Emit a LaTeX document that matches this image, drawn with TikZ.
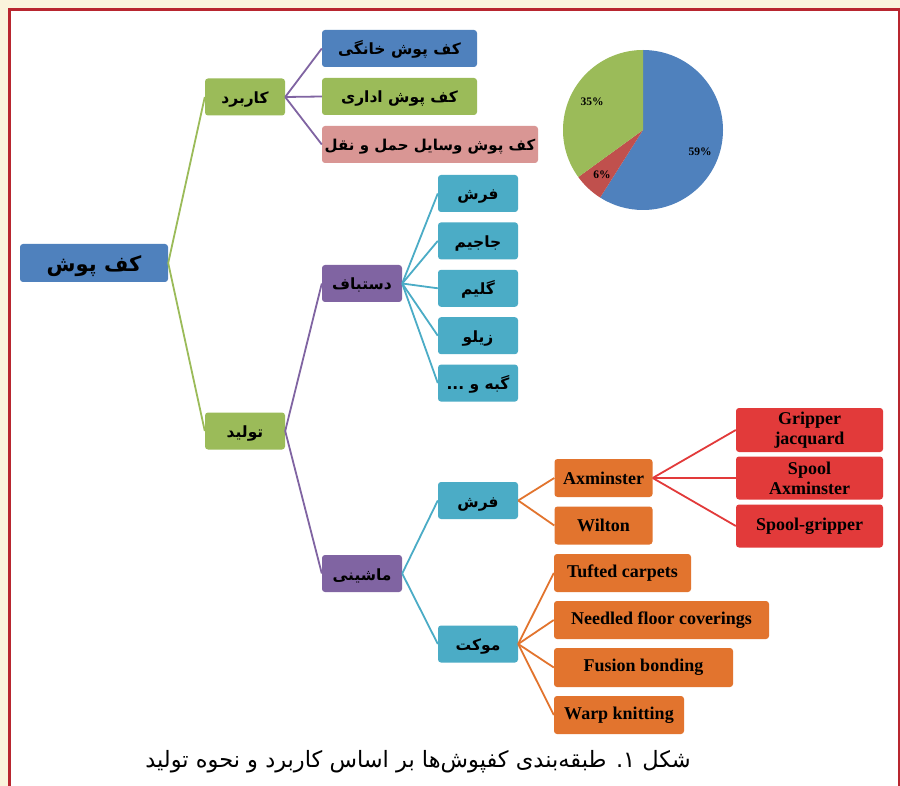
\documentclass[tikz,border=0pt]{standalone}
\usepackage{fontspec}
\setmainfont{Liberation Serif}
\newfontfamily\farsi[Script=Arabic]{DejaVu Sans}
\TeXXeTstate=1
\usepackage{tikz}
\usetikzlibrary{positioning}

\definecolor{kblue}{HTML}{4F81BD}
\definecolor{kgreen}{HTML}{9BBB59}
\definecolor{kpink}{HTML}{D99694}
\definecolor{kpurple}{HTML}{8064A2}
\definecolor{kteal}{HTML}{4BACC6}
\definecolor{korange}{HTML}{E2742E}
\definecolor{kred}{HTML}{E23A3A}
\definecolor{piered}{HTML}{C0504D}
\definecolor{cream}{HTML}{FAF4DC}
\definecolor{framered}{HTML}{B8262F}

\newcommand{\fa}[1]{\beginR #1\endR}

\begin{document}
\begin{tikzpicture}[x=1pt,y=-1pt,
    box/.style={rounded corners=3pt,minimum height=37pt,minimum width=80pt,inner sep=0pt,text=black},
    fabox/.style={box,text height=14pt,text depth=1pt,font=\farsi\bfseries\fontsize{15.5}{18}\selectfont},
    enbox/.style={box,align=center,font=\bfseries\fontsize{18}{20}\selectfont},
    link/.style={line width=1.8pt}]
       \useasboundingbox (0,0) rectangle (900,786);
       \clip (0,0) rectangle (900,786);
       \fill[cream] (0,0) rectangle (900,786);
       \filldraw[fill=white,draw=framered,line width=2.8pt] (9.5,9.5) rectangle (899,800);

       \node[fabox,fill=kblue,minimum width=148pt,minimum height=38pt,text height=19pt,text depth=1.5pt,font=\farsi\bfseries\fontsize{21}{24}\selectfont] (kafpush) at (94,263) {\fa{کف پوش}};

       \node[fabox,fill=kgreen] (karbord) at (245,97) {\fa{کاربرد}};
       \node[fabox,fill=kgreen] (tolid) at (245,431) {\fa{تولید}};

       \node[fabox,fill=kblue,minimum width=155pt] (khanegi) at (399.5,48.5) {\fa{کف پوش خانگی}};
       \node[fabox,fill=kgreen,minimum width=155pt] (edari) at (399.5,96.5) {\fa{کف پوش اداری}};
       \node[fabox,fill=kpink,minimum width=216pt,font=\farsi\bfseries\fontsize{15}{18}\selectfont] (haml) at (430,144.5) {\fa{کف پوش وسایل حمل و نقل}};

       \node[fabox,fill=kpurple] (dastbaf) at (362,283.5) {\fa{دستباف}};
       \node[fabox,fill=kpurple] (mashini) at (362,573.5) {\fa{ماشینی}};

       \node[fabox,fill=kteal] (farsh) at (478,193.5) {\fa{فرش}};
       \node[fabox,fill=kteal] (jajim) [below=10pt of farsh] {\fa{جاجیم}};
       \node[fabox,fill=kteal] (gelim) [below=10pt of jajim] {\fa{گلیم}};
       \node[fabox,fill=kteal] (zilu) [below=10pt of gelim] {\fa{زیلو}};
       \node[fabox,fill=kteal] (gabbe) [below=10pt of zilu] {\fa{گبه و ...}};

       \node[fabox,fill=kteal] (farshm) at (478,500.5) {\fa{فرش}};
       \node[fabox,fill=kteal] (moket) at (478,644) {\fa{موکت}};

       \node[enbox,fill=korange,minimum width=98pt,minimum height=38pt] (axminster) at (603.5,478) {Axminster};
       \node[enbox,fill=korange,minimum width=98pt,minimum height=38pt] (wilton) at (603.5,525.5) {Wilton};

       \node[enbox,fill=kred,minimum width=147pt,minimum height=44pt] (gripper) at (809.5,430) {Gripper\\jacquard};
       \node[enbox,fill=kred,minimum width=147pt,minimum height=43pt] (spoolax) at (809.5,478) {Spool\\Axminster};
       \node[enbox,fill=kred,minimum width=147pt,minimum height=43pt] (spoolgr) at (809.5,526) {Spool-gripper};

       \node[enbox,fill=korange,minimum width=137pt,minimum height=38pt] (tufted) at (622.5,573) {Tufted carpets};
       \node[enbox,fill=korange,minimum width=215pt,minimum height=38pt] (needled) at (661.5,620) {Needled floor coverings};
       \node[enbox,fill=korange,minimum width=179pt,minimum height=39pt] (fusion) at (643.5,667.5) {Fusion bonding};
       \node[enbox,fill=korange,minimum width=130pt,minimum height=38pt] (warp) at (619,715) {Warp knitting};

       \path[link,draw=kgreen]
       (kafpush.east) edge (karbord.west)
                      edge (tolid.west);
       \path[link,draw=kpurple]
       (karbord.east) edge (khanegi.west)
                      edge (edari.west)
                      edge (haml.west)
       (tolid.east) edge (dastbaf.west)
                    edge (mashini.west);
       \path[link,draw=kteal]
       (dastbaf.east) edge (farsh.west)
                      edge (jajim.west)
                      edge (gelim.west)
                      edge (zilu.west)
                      edge (gabbe.west)
       (mashini.east) edge (farshm.west)
                      edge (moket.west);
       \path[link,draw=korange]
       (farshm.east) edge (axminster.west)
                     edge (wilton.west)
       (moket.east) edge (tufted.west)
                    edge (needled.west)
                    edge (fusion.west)
                    edge (warp.west);
       \path[link,draw=kred]
       (axminster.east) edge (gripper.west)
                        edge (spoolax.west)
                        edge (spoolgr.west);

       \begin{scope}[shift={(643,130)},yscale=-1,font=\bfseries\fontsize{11.5}{12}\selectfont]
       \fill[kblue] (0,0) -- (90:80) arc[start angle=90,end angle=-122.4,radius=80] -- cycle;
       \fill[piered] (0,0) -- (-122.4:80) arc[start angle=-122.4,end angle=-144,radius=80] -- cycle;
       \fill[kgreen] (0,0) -- (-144:80) arc[start angle=-144,end angle=-270,radius=80] -- cycle;
       \node (p59) at (57,-22) {59\%};
       \node (p6) at (-41,-45) {6\%};
       \node (p35) at (-51,28) {35\%};
       \end{scope}

       \node[font=\farsi\fontsize{22.5}{26}\selectfont] (caption) at (418,762) {\fa{شکل ۱. طبقه‌بندی کفپوش‌ها بر اساس کاربرد و نحوه تولید}};
\end{tikzpicture}
\end{document}
